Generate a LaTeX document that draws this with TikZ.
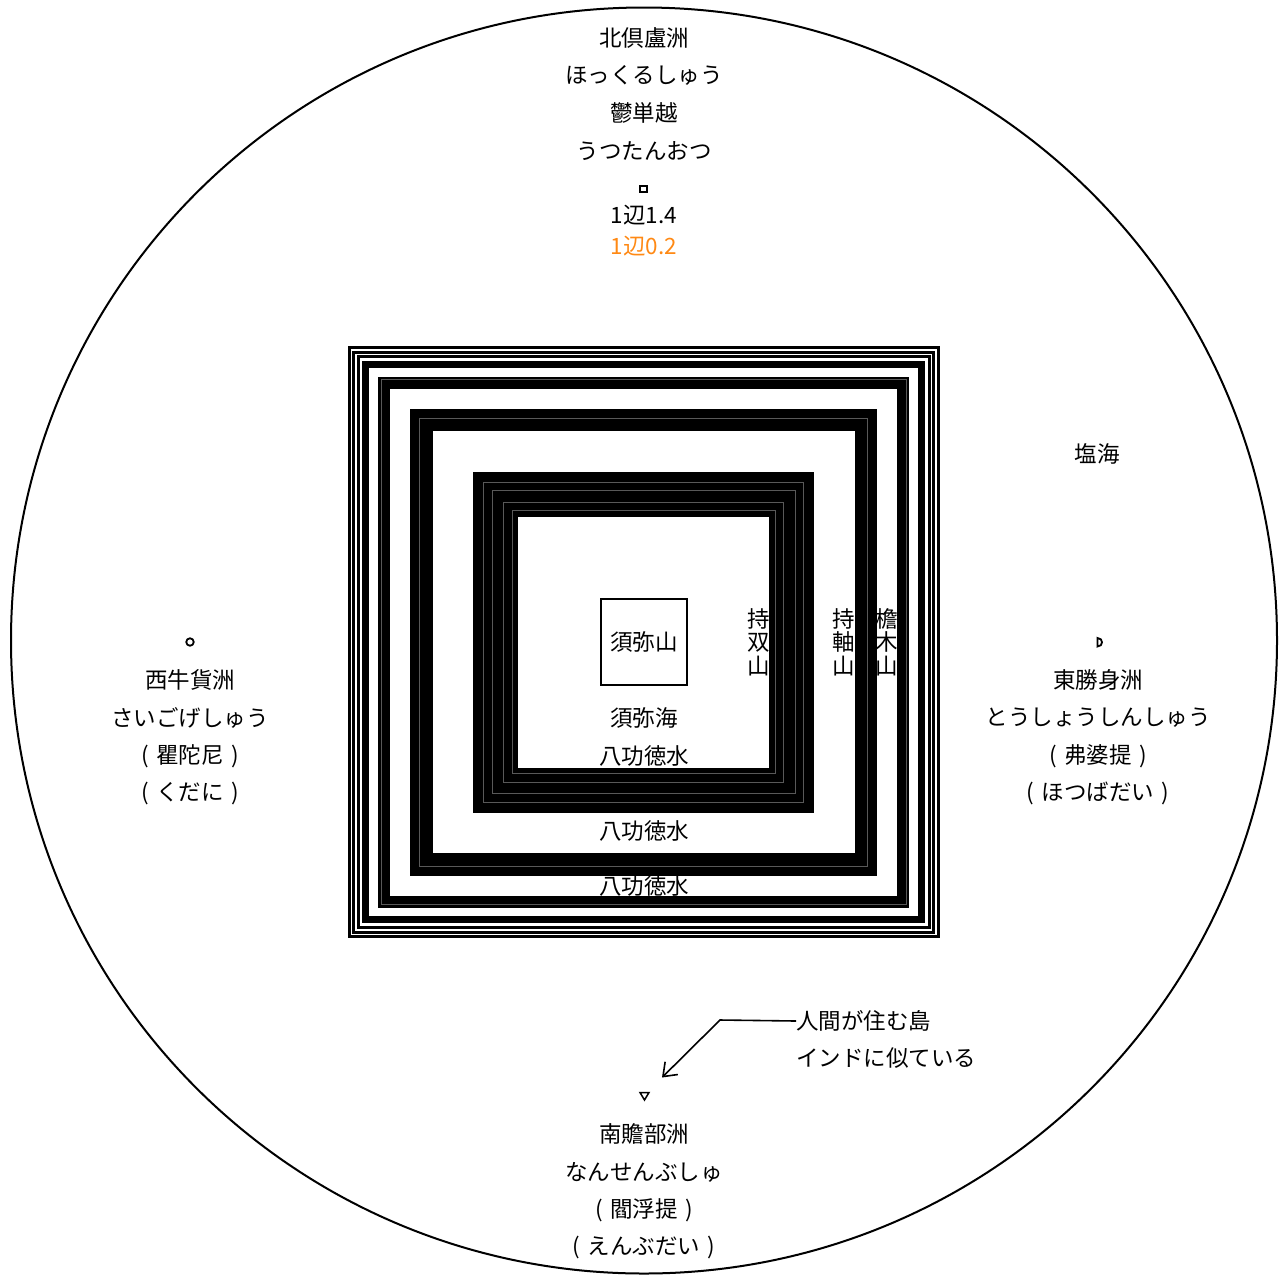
\documentclass[tikz,border=0pt]{standalone}
\usepackage{fontspec}
\setmainfont{Noto Sans CJK JP}
\usetikzlibrary{arrows.meta}
\definecolor{sideorange}{RGB}{255,137,20}
\newcommand{\lpar}{\makebox[1em][c]{(}}
\newcommand{\rpar}{\makebox[1em][c]{)}}

\begin{document}
\begin{tikzpicture}[x=1pt,y=-1pt,
  txt/.style={inner sep=0pt, font=\fontsize{22.5}{24}\selectfont},
  vtxt/.style={inner sep=0pt, align=center, font=\fontsize{22.5}{23.5}\selectfont},
  mountain/.style={draw=black, line join=miter},
  streak/.style={draw=black!65, line width=0.5pt},
  sign/.style={draw=black, line width=1.8pt},
  ]

\useasboundingbox (0,0) rectangle (1287,1275);
\draw[line width=2pt] (644,640.5) circle (633pt);

\foreach \h/\w in {148/45, 222.25/22.5, 259.5/12, 277.75/7, 285.5/3, 290/3, 294.5/3}
  \draw[mountain, line width=\w pt] (643.5-\h,642-\h) rectangle (643.5+\h,642+\h);
\foreach \h in {131.5, 140, 151.5, 160, 224, 262.5}
  \draw[streak] (643.5-\h,642-\h) rectangle (643.5+\h,642+\h);

\node[draw, line width=1.2pt, minimum size=86pt, inner sep=0pt, fill=white, txt] (shumi) at (644,642) {須弥山};

\node[txt] (kita1) at (644,38) {北倶盧洲};
\node[txt] (kita2) at (644,75) {ほっくるしゅう};
\node[txt] (kita3) at (644,113) {鬱単越};
\node[txt] (kita4) at (644,151) {うつたんおつ};
\node[sign, line width=2pt, minimum size=6.5pt, inner sep=0pt] (kitamark) at (643.5,189) {};
\node[txt] (hen1) at (644,215) {1辺1.4};
\node[txt, text=sideorange] (hen2) at (644,246) {1辺0.2};

\node[sign, circle, minimum size=7.5pt, inner sep=0pt] (nishimark) at (190,642) {};
\node[txt] (nishi1) at (190,680) {西牛貨洲};
\node[txt] (nishi2) at (190,718) {さいごげしゅう};
\node[txt] (nishi3) at (190,756) {\lpar 瞿陀尼\rpar};
\node[txt] (nishi4) at (190,793) {\lpar くだに\rpar};

\draw[sign] (1097.5,638) -- (1097.5,646.5) .. controls (1103.5,646.5) and (1103.5,638) .. cycle;
\node[txt] (higashi1) at (1098,680) {東勝身洲};
\node[txt] (higashi2) at (1098,718) {とうしょうしんしゅう};
\node[txt] (higashi3) at (1098,756) {\lpar 弗婆提\rpar};
\node[txt] (higashi4) at (1098,793) {\lpar ほつばだい\rpar};

\node[txt] (enkai) at (1097,454) {塩海};

\node[txt] (shumikai) at (644,718) {須弥海};
\node[txt] (kudoku1) at (644,756) {八功徳水};
\node[txt] (kudoku2) at (644,831) {八功徳水};
\node[txt] (kudoku3) at (644,886) {八功徳水};

\node[vtxt] (jisou) at (759,642) {持\\双\\山};
\node[vtxt] (jijiku) at (844,642) {持\\軸\\山};
\node[vtxt] (tanboku) at (887,642) {檐\\木\\山};

\draw[sign, line width=1.5pt, line join=miter] (640,1092.5) -- (649,1092.5) -- (644.5,1100) -- cycle;
\node[txt] (minami1) at (644,1134) {南贍部洲};
\node[txt] (minami2) at (644,1172) {なんせんぶしゅ};
\node[txt] (minami3) at (644,1210) {\lpar 閻浮提\rpar};
\node[txt] (minami4) at (644,1247) {\lpar えんぶだい\rpar};

\node[txt, anchor=west] (hito1) at (796,1021) {人間が住む島};
\node[txt, anchor=west] (hito2) at (796,1058) {インドに似ている};
\coordinate (bend) at (720,1020);
\coordinate (tip) at (662,1077.5);
\draw[line width=1.6pt, -{Straight Barb[length=12pt,width=18pt]}] (hito1.west) -- (bend) -- (tip);

\end{tikzpicture}
\end{document}
